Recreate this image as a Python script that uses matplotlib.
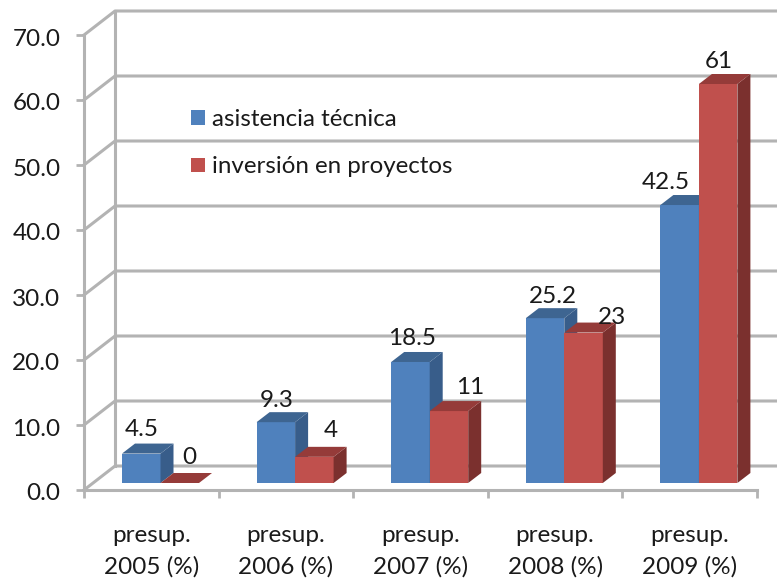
import matplotlib
matplotlib.use('Agg')
import matplotlib.pyplot as plt
from matplotlib.patches import Polygon, Patch
from matplotlib.transforms import ScaledTranslation

plt.rcParams['font.family'] = ['Lato', 'DejaVu Sans']

categories = ['presup.\n2005 (%)', 'presup.\n2006 (%)', 'presup.\n2007 (%)',
              'presup.\n2008 (%)', 'presup.\n2009 (%)']
asistencia = [4.5, 9.3, 18.5, 25.2, 42.5]
inversion = [0, 4, 11, 23, 61]
series_names = ['asistencia técnica', 'inversión en proyectos']
y_ticks = [0, 10, 20, 30, 40, 50, 60, 70]

# hand placed value labels, pixels away from the middle of the front top edge
asistencia_nudge = [(0, 24), (1, 22), (2, 23), (8, 22), (-14, 23)]
inversion_nudge = [(10, 26), (16, 26), (21, 24), (28, 15), (1, 23)]

W, H = 777, 580
PX_X = 1 / 134.6    # data units per pixel on the category axis
PX_Y = 70 / 455     # data units per pixel on the value axis

GRID = '#b3b3b3'
TEXT = '#1a1a1a'
BLUE = ('#4f81bd', '#3e6591', '#385d8a')
RED = ('#c0504d', '#953b39', '#7b302e')


def draw_bar(ax, x, value, width, colors):
    # front face plus the top and side faces of a fake 3d column
    base = 7 * PX_Y
    dx, dy = 13 * PX_X, 10 * PX_Y
    top = base + value * (483 - 84) / 61 * PX_Y
    front, upper, side = colors
    if value > 0:
        ax.add_patch(Polygon([(x, base), (x + width, base), (x + width, top), (x, top)],
                             fc=front, ec='none', clip_on=False, zorder=3))
    ax.add_patch(Polygon([(x + width, base), (x + width + dx, base + dy),
                          (x + width + dx, top + dy), (x + width, top)],
                         fc=side, ec='none', clip_on=False, zorder=3))
    ax.add_patch(Polygon([(x, top), (x + width, top), (x + width + dx, top + dy), (x + dx, top + dy)],
                         fc=upper, ec='none', clip_on=False, zorder=3))
    return top


fig = plt.figure(figsize=(W / 100, H / 100), dpi=100)
ax = fig.add_axes([84 / W, (H - 490) / H, 5 * 134.6 / W, 455 / H])
ax.set_xlim(0, 5)
ax.set_ylim(0, 70)
ax.patch.set_visible(False)

# back wall and the side wall diagonals
depth_x, depth_y = 31 * PX_X, 24 * PX_Y
for v in y_ticks:
    ax.plot([0, depth_x, 5 + depth_x], [v, v + depth_y, v + depth_y],
            color=GRID, lw=2.2, clip_on=False, zorder=1)
ax.plot([depth_x, depth_x], [depth_y, 70 + depth_y], color=GRID, lw=2.2, clip_on=False, zorder=1)

for spine in ['top', 'right']:
    ax.spines[spine].set_visible(False)
for spine in ['left', 'bottom']:
    ax.spines[spine].set_color(GRID)
    ax.spines[spine].set_linewidth(2.2)

ax.set_yticks(y_ticks)
ax.set_yticklabels(['%.1f' % v for v in y_ticks])
ax.set_xticks(range(6))
ax.set_xticklabels([])
ax.set_xticks([i + 0.5 for i in range(5)], labels=categories, minor=True)
ax.tick_params(axis='y', length=6, width=2, color=GRID, labelsize=17.5, labelcolor=TEXT, pad=11)
ax.tick_params(axis='x', which='major', length=6, width=2, color=GRID)
ax.tick_params(axis='x', which='minor', length=0, labelsize=17.5, labelcolor=TEXT, pad=25)
for label in ax.get_xticklabels(minor=True):
    label.set_linespacing(1.6)
# value labels sit a little under their tick marks
for label in ax.get_yticklabels():
    label.set_transform(label.get_transform() + ScaledTranslation(0, -0.02, fig.dpi_scale_trans))

bar_w = 38.5 * PX_X
bar_start = 38 * PX_X
for i in range(5):
    x0 = i + bar_start
    top_a = draw_bar(ax, x0, asistencia[i], bar_w, BLUE)
    top_b = draw_bar(ax, x0 + bar_w, inversion[i], bar_w, RED)
    ax.annotate(str(asistencia[i]), (x0 + bar_w / 2, top_a), xytext=asistencia_nudge[i],
                textcoords='offset pixels', ha='center', va='center',
                fontsize=17.5, color=TEXT, zorder=5, annotation_clip=False)
    ax.annotate(str(inversion[i]), (x0 + 1.5 * bar_w, top_b), xytext=inversion_nudge[i],
                textcoords='offset pixels', ha='center', va='center',
                fontsize=17.5, color=TEXT, zorder=5, annotation_clip=False)

handles = [Patch(fc=BLUE[0], ec='none'), Patch(fc=RED[0], ec='none')]
leg = ax.legend(handles, series_names, loc='upper left', frameon=False,
                bbox_to_anchor=((184 - 84) / (5 * 134.6), (490 - 102) / 455),
                borderaxespad=0, borderpad=0.3, fontsize=17.4, labelcolor=TEXT,
                handlelength=0.55, handleheight=0.55, handletextpad=0.3, labelspacing=1.08)

fig.savefig('out.png', dpi=100)
